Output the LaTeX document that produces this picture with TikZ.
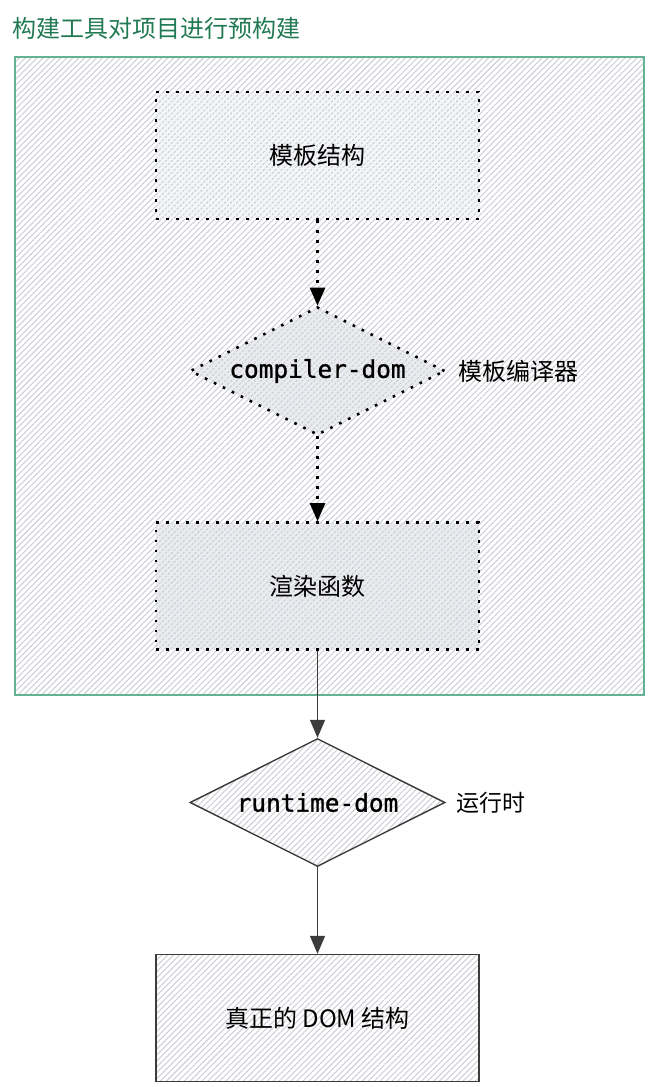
\documentclass[tikz,border=0pt]{standalone}
\usepackage{fontspec}
\newfontfamily\codefont[FakeBold=1.2]{DejaVu Sans Mono}
\newfontfamily\cjk{Noto Sans CJK SC}
\usetikzlibrary{shapes.geometric,arrows.meta,patterns.meta,positioning}
\definecolor{framegreen}{RGB}{100,178,146}
\definecolor{titlegreen}{RGB}{34,122,84}
\definecolor{hatchgray}{RGB}{200,203,210}
\definecolor{shadegray}{RGB}{234,235,239}
\definecolor{edgegray}{RGB}{60,60,60}

\begin{document}
\begin{tikzpicture}[x=0.5pt,y=-0.5pt,
    hatch/.style={pattern={Lines[angle=45,distance=2.1pt,line width=0.45pt]}, pattern color=hatchgray},
    dots/.style={line width=1.3pt, dash pattern=on 1.3pt off 3.7pt},
    stagebox/.style={rectangle, minimum width=161.5pt, minimum height=63.5pt, inner sep=0pt,
        font=\cjk\fontsize{12}{14}\selectfont},
    stagediamond/.style={diamond, aspect=2, minimum width=127.5pt, minimum height=64pt, inner sep=0pt,
        font=\codefont\fontsize{12.2}{15}\selectfont},
    sidelabel/.style={inner sep=0pt, font=\cjk\fontsize{12}{14}\selectfont},
    flow/.style={-{Triangle[length=9pt,width=7.5pt]}, line width=0.7pt}
]
\useasboundingbox[fill=white] (0,0) rectangle (652,1087);

% build-time frame
\node[rectangle, draw=framegreen, line width=0.9pt, hatch, minimum width=314.5pt, minimum height=319pt, inner sep=0pt] (prebuild) at (329.5,376) {};
\node[anchor=west, sidelabel, text=titlegreen] (title) at (12,28) {构建工具对项目进行预构建};

\node[stagebox, dots, draw, preaction={fill=shadegray!50}, hatch] (tpl) at (317.5,155.5) {模板结构};
\node[stagediamond, dots, draw, preaction={fill=shadegray}, hatch] (compiler) at (317.5,371) {compiler-dom};
\node[sidelabel, right=6pt of compiler] (compilerlbl) {模板编译器};
\node[stagebox, dots, draw, preaction={fill=shadegray}, hatch] (render) at (317.5,586) {渲染函数};

% runtime
\node[stagediamond, draw=edgegray, line width=0.7pt, fill=white, hatch] (runtime) at (317.5,802.5) {runtime-dom};
\node[sidelabel, right=5pt of runtime, font=\cjk\fontsize{11.5}{14}\selectfont] (runtimelbl) {运行时};
\node[stagebox, draw=edgegray, line width=0.7pt, fill=white, hatch] (realdom) at (317.5,1018) {真正的 DOM 结构};

\draw[flow, dots] (tpl) -- (compiler);
\draw[flow, dots] (compiler) -- (render);
\draw[flow, edgegray] (render) -- (runtime);
\draw[flow, edgegray] (runtime) -- (realdom);
\end{tikzpicture}
\end{document}
